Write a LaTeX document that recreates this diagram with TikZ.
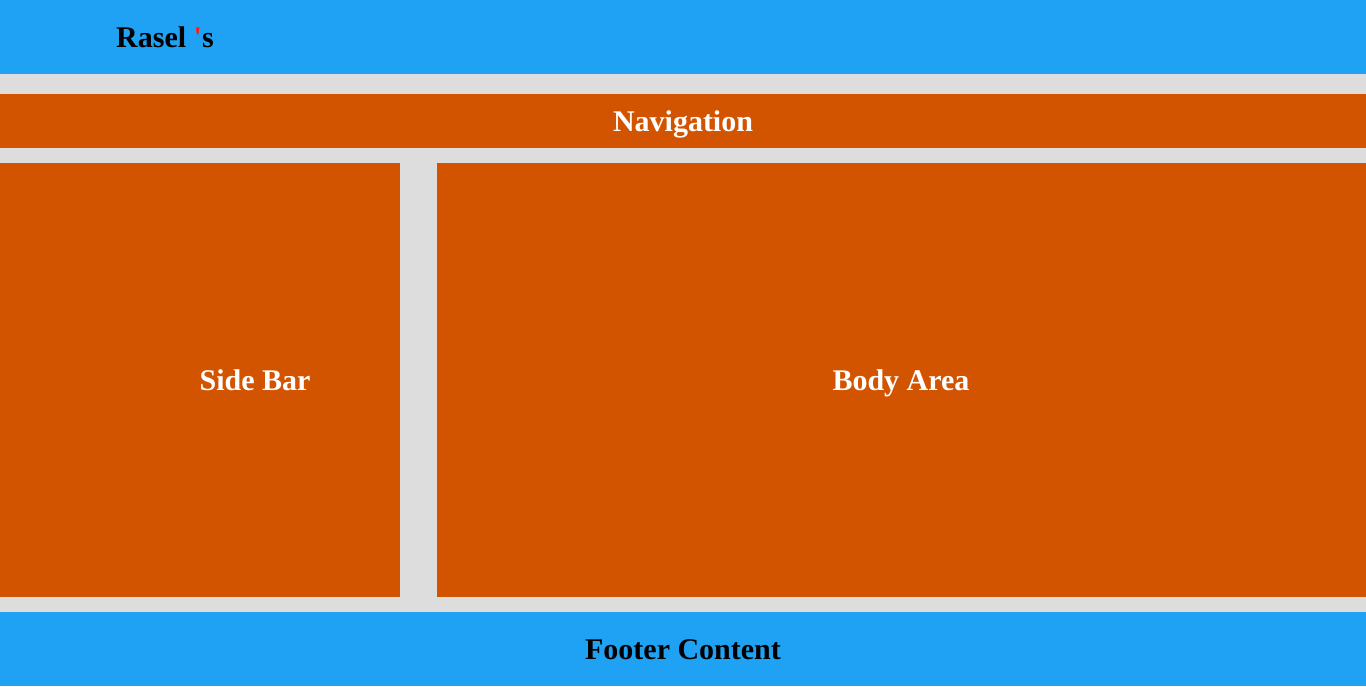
\documentclass[tikz,border=0pt]{standalone}
\usepackage{fontspec}
\setmainfont{Liberation Serif}
% same family without the TeX quote mapping, for a straight apostrophe
\newfontfamily\plainserif{Liberation Serif}
\definecolor{barblue}{HTML}{1FA2F3}
\definecolor{panelorange}{HTML}{D35400}
\definecolor{gapgray}{HTML}{DDDDDD}
\definecolor{markred}{HTML}{FF1A1A}
\begin{document}
\begin{tikzpicture}[x=1pt,y=-1pt,
  heading/.style={font=\fontsize{30}{36}\selectfont\bfseries,inner sep=0pt,anchor=base},
  light/.style={heading,text=white},
  dark/.style={heading,text=black}]
  % page background
  \fill[gapgray] (0,0) rectangle (1366,686);
  \useasboundingbox (0,0) rectangle (1366,686);
  % bands and panels
  \fill[barblue] (0,0) rectangle (1366,74);
  \fill[panelorange] (0,94) rectangle (1366,148);
  \fill[panelorange] (0,163) rectangle (400,597);
  \fill[panelorange] (437,163) rectangle (1366,597);
  \fill[barblue] (0,612) rectangle (1366,686);
  % labels
  \node[dark,anchor=base west] (brand) at (116,47) {Rasel {\plainserif\bfseries\textcolor{markred}{'}}s};
  \node[light] (nav) at (683,131) {Navigation};
  \node[light] (side) at (255,390) {Side Bar};
  \node[light] (body) at (901,390) {Body Area};
  \node[dark] (foot) at (683,659) {Footer Content};
\end{tikzpicture}
\end{document}
